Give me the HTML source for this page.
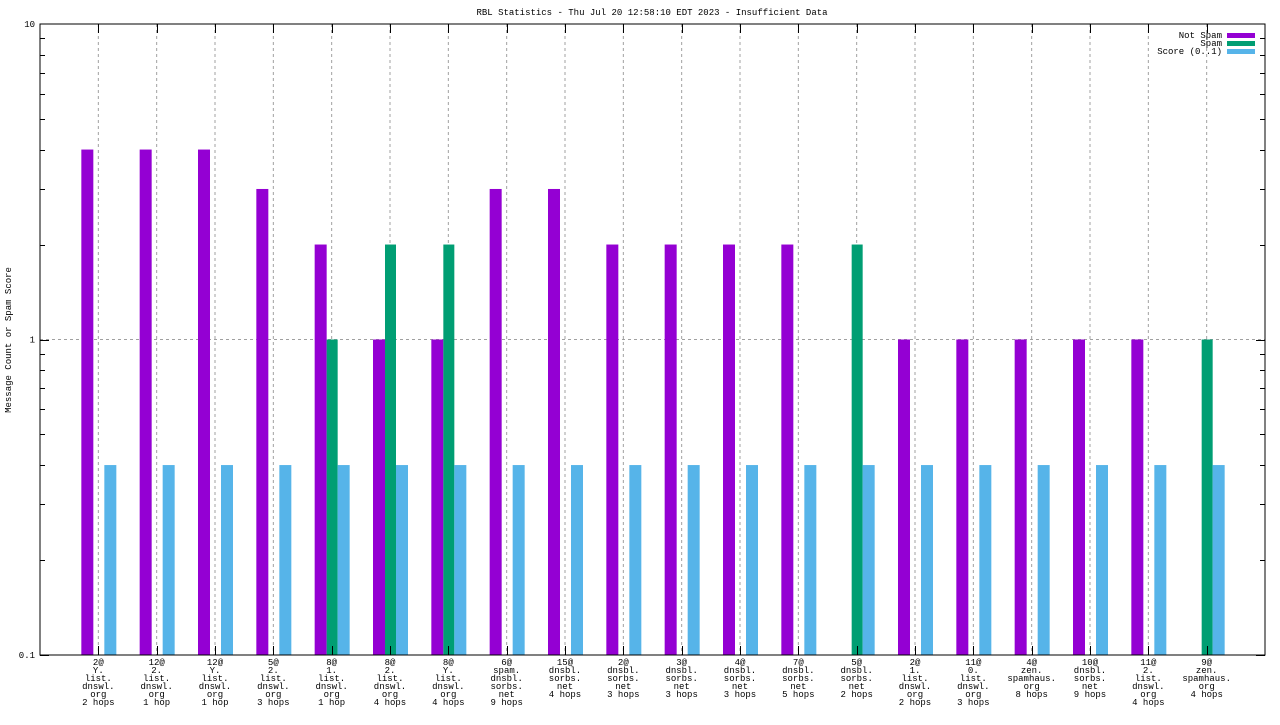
<!DOCTYPE html>
<html><head><meta charset="utf-8"><style>
html,body{margin:0;padding:0;background:#fff;}
svg text{font-family:"Liberation Mono","DejaVu Sans Mono",monospace;font-size:9px;fill:#000;}
</style></head><body>
<svg id="chart" width="1280" height="720" xmlns="http://www.w3.org/2000/svg">
<text x="652" y="15" text-anchor="middle">RBL Statistics - Thu Jul 20 12:58:10 EDT 2023 - Insufficient Data</text>
<text transform="translate(11,340) rotate(-90)" text-anchor="middle">Message Count or Spam Score</text>
<g id="grid"></g><g id="bars"></g><g id="axes"></g><g id="labels"></g>
<g>
<text x="1222" y="38" text-anchor="end">Not Spam</text><rect x="1227" y="33" width="28" height="5" fill="#9400d3"/>
<text x="1222" y="46" text-anchor="end">Spam</text><rect x="1227" y="41" width="28" height="5" fill="#009e73"/>
<text x="1222" y="54" text-anchor="end">Score (0..1)</text><rect x="1227" y="49" width="28" height="5" fill="#56b4e9"/>
</g>
</svg>
<script>
const categories=[
"2@|Y.|list.|dnswl.|org|2 hops","12@|2.|list.|dnswl.|org|1 hop","12@|Y.|list.|dnswl.|org|1 hop","5@|2.|list.|dnswl.|org|3 hops",
"8@|1.|list.|dnswl.|org|1 hop","8@|2.|list.|dnswl.|org|4 hops","8@|Y.|list.|dnswl.|org|4 hops","6@|spam.|dnsbl.|sorbs.|net|9 hops",
"15@|dnsbl.|sorbs.|net|4 hops","2@|dnsbl.|sorbs.|net|3 hops","3@|dnsbl.|sorbs.|net|3 hops","4@|dnsbl.|sorbs.|net|3 hops",
"7@|dnsbl.|sorbs.|net|5 hops","5@|dnsbl.|sorbs.|net|2 hops","2@|1.|list.|dnswl.|org|2 hops","11@|0.|list.|dnswl.|org|3 hops",
"4@|zen.|spamhaus.|org|8 hops","10@|dnsbl.|sorbs.|net|9 hops","11@|2.|list.|dnswl.|org|4 hops","9@|zen.|spamhaus.|org|4 hops"];
const notSpam=[4,4,4,3,2,1,1,3,3,2,2,2,2,0,1,1,1,1,1,0];
const spam=[0,0,0,0,1,2,2,0,0,0,0,0,0,2,0,0,0,0,0,1];
const score=[0.4,0.4,0.4,0.4,0.4,0.4,0.4,0.4,0.4,0.4,0.4,0.4,0.4,0.4,0.4,0.4,0.4,0.4,0.4,0.4];
const yTicks=[0.1,1,10];
const yTickLabels=["0.1","1","10"];
const NS="http://www.w3.org/2000/svg";
const L=40,R=1265,T=24,B=655,ymin=0.1,ymax=10;
function y(v){return B-(Math.log10(v)-Math.log10(ymin))/(Math.log10(ymax)-Math.log10(ymin))*(B-T);}
function xc(i){return L+(i+1)*(R-L)/(categories.length+1);}
function mk(tag,attrs,parent){const e=document.createElementNS(NS,tag);for(const k in attrs)e.setAttribute(k,attrs[k]);parent.appendChild(e);return e;}
const grid=document.getElementById('grid'),bars=document.getElementById('bars'),axes=document.getElementById('axes'),labels=document.getElementById('labels');
categories.forEach((c,i)=>{
  const g=mk('line',{x1:xc(i),x2:xc(i),y1:T,y2:B,stroke:'#a0a0a0','stroke-dasharray':'3,3','stroke-width':1},grid);
  
  
});
const g1=mk('line',{x1:L,x2:R,y1:y(1),y2:y(1),stroke:'#a0a0a0','stroke-dasharray':'3,3'},grid);


const series=[[notSpam,'#9400d3',-17,'bar-not-spam'],[spam,'#009e73',-5,'bar-spam'],[score,'#56b4e9',6,'bar-score']];
series.forEach(([arr,col,off,nm])=>{
  arr.forEach((v,i)=>{
    if(v<=ymin)return;
    const top=y(v);
    const r=mk('rect',{x:xc(i)+off,y:top,width:(off==-5?11:12),height:B-top,fill:col},bars);
    
    
  });
});
const frame=mk('rect',{x:L,y:T,width:R-L,height:B-T,fill:'none',stroke:'#000','stroke-width':1},axes);


for(let d=-1;d<1;d++){
  for(let m=1;m<10;m++){
    const v=m*Math.pow(10,d);const yy=Math.round(y(v))+0.5;const len=m==1?9:5;
    mk('line',{x1:L,x2:L+len,y1:yy,y2:yy,stroke:'#000'},axes);
    mk('line',{x1:R-len,x2:R,y1:yy,y2:yy,stroke:'#000'},axes);
  }
}
yTicks.forEach((v,i)=>{
  const t=mk('text',{x:L-5,y:y(v)+3,'text-anchor':'end'},axes);
  t.textContent=yTickLabels[i];
  
  
});
categories.forEach((c,i)=>{
  const x=Math.round(xc(i))+0.5;
  mk('line',{x1:x,x2:x,y1:T,y2:T+9,stroke:'#000'},axes);
  mk('line',{x1:x,x2:x,y1:B-9,y2:B,stroke:'#000'},axes);
  const t=mk('text',{x:xc(i),y:665,'text-anchor':'middle'},labels);
  
  
  c.split('|').forEach((ln,k)=>{const s=mk('tspan',{x:xc(i),y:665+k*8},t);s.textContent=ln;});
});
</script>
</body></html>
